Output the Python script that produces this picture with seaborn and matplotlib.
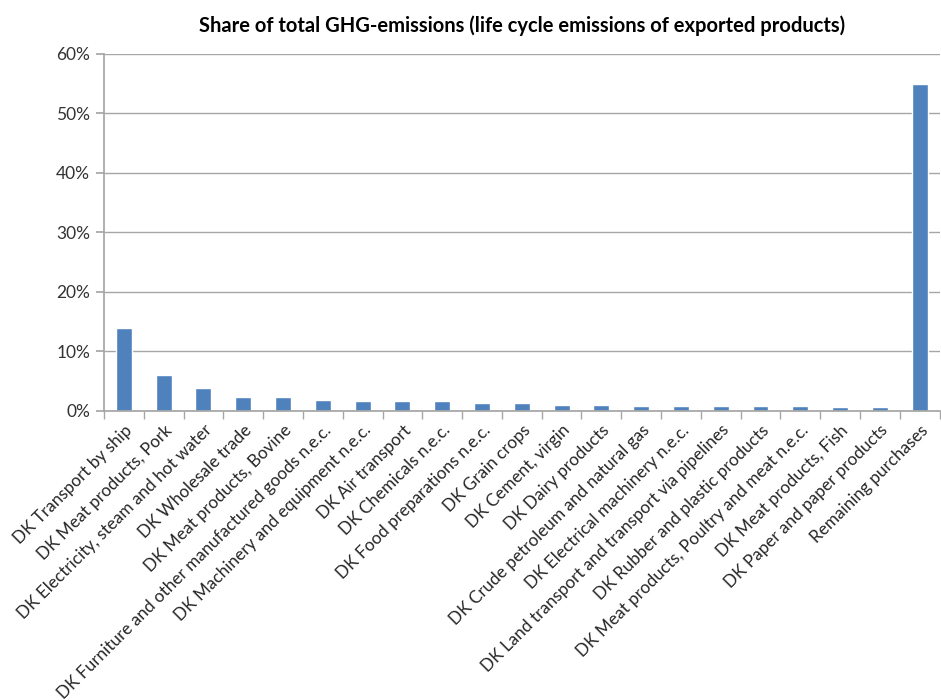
import seaborn as sns
import matplotlib.pyplot as plt
import pandas as pd
from matplotlib.ticker import PercentFormatter, FixedLocator

# Categories and shares (%)
categories = [
    "DK Transport by ship",
    "DK Meat products, Pork",
    "DK Electricity, steam and hot water",
    "DK Wholesale trade",
    "DK Meat products, Bovine",
    "DK Furniture and other manufactured goods n.e.c.",
    "DK Machinery and equipment n.e.c.",
    "DK Air transport",
    "DK Chemicals n.e.c.",
    "DK Food preparations n.e.c.",
    "DK Grain crops",
    "DK Cement, virgin",
    "DK Dairy products",
    "DK Crude petroleum and natural gas",
    "DK Electrical machinery n.e.c.",
    "DK Land transport and transport via pipelines",
    "DK Rubber and plastic products",
    "DK Meat products, Poultry and meat n.e.c.",
    "DK Meat products, Fish",
    "DK Paper and paper products",
    "Remaining purchases",
]
shares = [13.9, 6.0, 3.9, 2.4, 2.3, 1.75, 1.6, 1.6, 1.6, 1.35, 1.25,
          1.05, 1.05, 0.9, 0.9, 0.9, 0.9, 0.75, 0.6, 0.6, 55.0]

df = pd.DataFrame({"category": categories, "share": shares})

sns.set_theme(style="white")
plt.rcParams["font.family"] = ["Lato", "DejaVu Sans"]

fig = plt.figure(figsize=(9.41, 7.0), dpi=100)
ax = fig.add_axes([0.1105, 0.413, 0.888, 0.51])

sns.barplot(data=df, x="category", y="share", color="#4F81BD",
            width=0.4, saturation=1, ax=ax)

ax.set_ylim(0, 60)
ax.set_xlim(-0.5, len(categories) - 0.5)
ax.set_yticks(range(0, 61, 10))
ax.yaxis.set_major_formatter(PercentFormatter(decimals=0))
ax.yaxis.grid(True, color="#A6A6A6", linewidth=1)
ax.set_axisbelow(True)

for side in ["top", "right"]:
    ax.spines[side].set_visible(False)
for side in ["left", "bottom"]:
    ax.spines[side].set_color("#A6A6A6")

ax.tick_params(axis="y", length=6, color="#A6A6A6", labelsize=12.5,
               labelcolor="#333333", pad=4, left=True)
ax.tick_params(axis="x", which="major", length=0, labelsize=12.3,
               labelcolor="#262626", pad=8)
ax.xaxis.set_minor_locator(FixedLocator([i - 0.5 for i in range(len(categories) + 1)]))
ax.tick_params(axis="x", which="minor", length=6, color="#A6A6A6", bottom=True)

plt.setp(ax.get_xticklabels(), rotation=45, ha="right", rotation_mode="anchor")
ax.set_xlabel("")
ax.set_ylabel("")
ax.set_title("Share of total GHG-emissions (life cycle emissions of exported products)",
             fontsize=14.5, fontweight="bold", color="#000000", pad=16)

fig.savefig("out.png", dpi=100)
